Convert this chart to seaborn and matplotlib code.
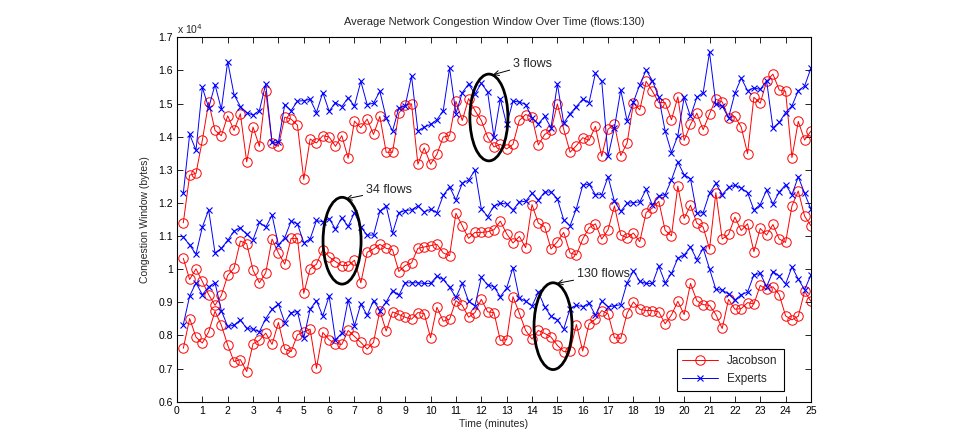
import numpy as np
import pandas as pd
import matplotlib
matplotlib.use("Agg")
import matplotlib.pyplot as plt
from matplotlib.patches import Ellipse
import seaborn as sns

# ---- data (congestion window, units of 10^4 bytes) ----
sample_index = list(range(1, 101))          # one sample every 0.25 min
minutes_per_sample = 0.25

jacobson_3 = [1.14, 1.284, 1.289, 1.389, 1.504, 1.419, 1.403, 1.463, 1.419, 1.469,
              1.324, 1.429, 1.371, 1.537, 1.381, 1.371, 1.459, 1.453, 1.435, 1.271,
              1.393, 1.381, 1.403, 1.399, 1.371, 1.403, 1.335, 1.447, 1.427, 1.453,
              1.407, 1.461, 1.353, 1.353, 1.471, 1.497, 1.499, 1.317, 1.366, 1.317,
              1.347, 1.399, 1.403, 1.507, 1.449, 1.515, 1.479, 1.449, 1.399, 1.369,
              1.377, 1.363, 1.377, 1.449, 1.467, 1.459, 1.375, 1.407, 1.419, 1.499,
              1.423, 1.353, 1.373, 1.397, 1.389, 1.431, 1.341, 1.423, 1.437, 1.343,
              1.381, 1.501, 1.481, 1.567, 1.537, 1.503, 1.503, 1.451, 1.52, 1.389,
              1.437, 1.471, 1.421, 1.469, 1.513, 1.505, 1.457, 1.461, 1.429, 1.349,
              1.519, 1.501, 1.567, 1.589, 1.541, 1.537, 1.337, 1.446, 1.39, 1.417]
experts_3 = [1.229, 1.407, 1.359, 1.549, 1.487, 1.557, 1.483, 1.627, 1.527, 1.491,
             1.473, 1.465, 1.479, 1.559, 1.383, 1.383, 1.497, 1.479, 1.507, 1.509,
             1.513, 1.473, 1.533, 1.477, 1.503, 1.491, 1.517, 1.493, 1.567, 1.497,
             1.501, 1.537, 1.457, 1.417, 1.487, 1.493, 1.583, 1.417, 1.429, 1.437,
             1.451, 1.479, 1.607, 1.47, 1.533, 1.559, 1.529, 1.561, 1.535, 1.399,
             1.515, 1.437, 1.507, 1.505, 1.497, 1.457, 1.439, 1.461, 1.427, 1.559,
             1.441, 1.469, 1.491, 1.513, 1.503, 1.591, 1.567, 1.341, 1.427, 1.541,
             1.447, 1.505, 1.557, 1.601, 1.569, 1.519, 1.417, 1.352, 1.403, 1.519,
             1.461, 1.519, 1.533, 1.655, 1.499, 1.493, 1.457, 1.531, 1.577, 1.539,
             1.547, 1.543, 1.569, 1.427, 1.443, 1.473, 1.493, 1.539, 1.553, 1.607]
jacobson_34 = [1.033, 0.969, 1.001, 0.963, 0.923, 0.891, 0.921, 0.981, 1.003, 1.085,
               1.077, 0.997, 0.959, 0.989, 1.091, 1.049, 1.015, 1.093, 1.093, 0.927,
               1.001, 1.015, 1.059, 1.037, 1.023, 1.011, 1.011, 1.027, 0.959, 1.051,
               1.061, 1.075, 1.063, 1.059, 0.993, 1.011, 1.019, 1.063, 1.067, 1.071,
               1.075, 1.049, 1.041, 1.169, 1.131, 1.093, 1.111, 1.111, 1.113, 1.119,
               1.145, 1.107, 1.079, 1.099, 1.065, 1.195, 1.139, 1.128, 1.061, 1.083,
               1.111, 1.049, 1.043, 1.091, 1.125, 1.137, 1.091, 1.119, 1.191, 1.103,
               1.095, 1.109, 1.083, 1.171, 1.185, 1.205, 1.117, 1.101, 1.251, 1.153,
               1.193, 1.139, 1.127, 1.061, 1.231, 1.091, 1.105, 1.157, 1.117, 1.137,
               1.053, 1.123, 1.103, 1.135, 1.091, 1.081, 1.191, 1.236, 1.16, 1.131]
experts_34 = [1.097, 1.073, 1.045, 1.127, 1.179, 1.049, 1.063, 1.087, 1.115, 1.125,
              1.105, 1.089, 1.141, 1.127, 1.163, 1.073, 1.095, 1.145, 1.137, 1.08,
              1.091, 1.147, 1.143, 1.153, 1.121, 1.155, 1.129, 1.171, 1.127, 1.103,
              1.103, 1.175, 1.191, 1.109, 1.171, 1.177, 1.179, 1.191, 1.173, 1.181,
              1.171, 1.223, 1.249, 1.209, 1.259, 1.269, 1.299, 1.183, 1.159, 1.191,
              1.199, 1.197, 1.179, 1.203, 1.205, 1.229, 1.209, 1.233, 1.233, 1.213,
              1.149, 1.131, 1.183, 1.253, 1.257, 1.225, 1.225, 1.279, 1.205, 1.175,
              1.199, 1.201, 1.203, 1.241, 1.193, 1.221, 1.225, 1.27, 1.323, 1.285,
              1.273, 1.169, 1.171, 1.229, 1.259, 1.225, 1.247, 1.253, 1.245, 1.231,
              1.179, 1.195, 1.239, 1.197, 1.233, 1.255, 1.225, 1.279, 1.229, 1.181]
jacobson_130 = [0.761, 0.851, 0.795, 0.777, 0.811, 0.873, 0.831, 0.771, 0.721, 0.727,
                0.691, 0.775, 0.785, 0.807, 0.773, 0.839, 0.759, 0.751, 0.802, 0.811,
                0.819, 0.701, 0.809, 0.787, 0.775, 0.773, 0.815, 0.797, 0.779, 0.759,
                0.779, 0.875, 0.813, 0.871, 0.863, 0.855, 0.849, 0.869, 0.866, 0.793,
                0.885, 0.843, 0.849, 0.905, 0.891, 0.855, 0.869, 0.909, 0.871, 0.869,
                0.785, 0.787, 0.917, 0.867, 0.815, 0.789, 0.815, 0.806, 0.795, 0.77,
                0.751, 0.753, 0.833, 0.753, 0.835, 0.849, 0.875, 0.865, 0.793, 0.791,
                0.867, 0.901, 0.879, 0.875, 0.875, 0.871, 0.835, 0.862, 0.903, 0.863,
                0.957, 0.905, 0.893, 0.891, 0.863, 0.821, 0.909, 0.879, 0.881, 0.899,
                0.895, 0.951, 0.939, 0.947, 0.923, 0.859, 0.847, 0.858, 0.933, 0.903]
experts_130 = [0.833, 0.919, 0.959, 0.923, 0.947, 0.959, 0.875, 0.827, 0.831, 0.847,
               0.821, 0.819, 0.811, 0.851, 0.879, 0.895, 0.839, 0.869, 0.872, 0.793,
               0.879, 0.905, 0.859, 0.919, 0.787, 0.807, 0.907, 0.829, 0.895, 0.861,
               0.905, 0.875, 0.901, 0.935, 0.921, 0.959, 0.959, 0.959, 0.957, 0.957,
               0.979, 0.969, 0.945, 0.915, 0.957, 0.903, 0.889, 0.975, 0.953, 0.947,
               0.917, 0.943, 1.005, 0.913, 0.903, 0.889, 0.931, 0.886, 0.858, 0.847,
               0.819, 0.881, 0.891, 0.887, 0.897, 0.861, 0.903, 0.887, 0.889, 0.893,
               0.959, 0.995, 0.963, 0.957, 0.957, 1.009, 0.959, 0.987, 1.033, 1.043,
               1.067, 1.029, 1.063, 1.001, 0.939, 0.937, 0.925, 0.907, 0.923, 0.931,
               0.983, 0.987, 0.947, 0.993, 0.979, 0.955, 1.007, 0.97, 0.938, 0.983]

x_ticks = list(range(0, 26))
y_ticks = [0.6, 0.7, 0.8, 0.9, 1.0, 1.1, 1.2, 1.3, 1.4, 1.5, 1.6, 1.7]
title_text = "Average Network Congestion Window Over Time (flows:130)"
annotations = [("3 flows", 12.30, 1.458), ("34 flows", 6.51, 1.086), ("130 flows", 14.83, 0.828)]

# ---- long table ----
times = [i * minutes_per_sample for i in sample_index]
frames = []
for method, flows, vals in [("Jacobson", 3, jacobson_3), ("Jacobson", 34, jacobson_34),
                            ("Jacobson", 130, jacobson_130), ("Experts", 3, experts_3),
                            ("Experts", 34, experts_34), ("Experts", 130, experts_130)]:
    frames.append(pd.DataFrame({"time": times, "cwnd": vals, "method": method, "flows": flows}))
df = pd.concat(frames, ignore_index=True)

sns.set_theme(style="white")
plt.rcParams["font.family"] = ["Liberation Sans", "DejaVu Sans"]

fig = plt.figure(figsize=(9.66, 4.36), dpi=100)
ax = fig.add_axes([0.1832, 0.0787, 0.8395 - 0.1832, 0.9144 - 0.0787])

styles = {"Jacobson": dict(color="#ff0000", marker="o", markersize=6.8,
                           markerfacecolor="none", markeredgecolor="#ff0000", markeredgewidth=0.7),
          "Experts": dict(color="#0000ff", marker="x", markersize=4.5,
                          markeredgecolor="#0000ff", markeredgewidth=0.8)}
for method in ["Jacobson", "Experts"]:
    for j, flows in enumerate([3, 34, 130]):
        sub = df[(df.method == method) & (df.flows == flows)]
        sns.lineplot(data=sub, x="time", y="cwnd", ax=ax, linewidth=0.7,
                     label=method if j == 0 else None, legend=False, **styles[method])

ax.set_xlim(0, 25)
ax.set_ylim(0.6, 1.7)
ax.set_xticks(x_ticks)
ax.set_yticks(y_ticks)
ax.set_xticklabels([str(t) for t in x_ticks])
ax.set_yticklabels(["%g" % t for t in y_ticks])
ax.tick_params(direction="in", length=4, width=0.6, labelsize=7.5, colors="black",
               top=True, right=True, bottom=True, left=True, pad=3)
for s in ax.spines.values():
    s.set_color("black")
    s.set_linewidth(0.8)
ax.set_xlabel("Time (minutes)", fontsize=7.5, labelpad=2)
ax.set_ylabel("Congestion Window (bytes)", fontsize=7.5, labelpad=6)
ax.set_title(title_text, fontsize=8, pad=9)
ax.text(0.0, 1.004, r"x 10$^4$", transform=ax.transAxes, fontsize=7.5, ha="left", va="bottom")

# ellipses and labels
text_offsets = {"3 flows": (0.95, 0.162), "34 flows": (0.94, 0.153), "130 flows": (0.94, 0.156)}
tip_offsets = {"3 flows": (0.16, 0.129), "34 flows": (0.15, 0.126), "130 flows": (0.15, 0.129)}
for label, cx, cy in annotations:
    ax.add_patch(Ellipse((cx, cy), 1.5, 0.262, fill=False, edgecolor="black", linewidth=2.0, zorder=5))
    tx, ty = cx + text_offsets[label][0], cy + text_offsets[label][1]
    px, py = cx + tip_offsets[label][0], cy + tip_offsets[label][1]
    ax.annotate(label, xy=(px, py), xytext=(tx, ty), fontsize=9, ha="left", va="center",
                arrowprops=dict(arrowstyle="->", color="black", lw=0.7, shrinkA=0, shrinkB=0),
                zorder=6)

leg = ax.legend(loc="lower right", bbox_to_anchor=(0.957, 0.029), borderaxespad=0,
                fontsize=8.5, frameon=True, fancybox=False, edgecolor="black", framealpha=1,
                borderpad=0.5, handlelength=3.0, labelspacing=0.55)
leg.get_frame().set_linewidth(0.8)

fig.savefig("out.png", dpi=100)
